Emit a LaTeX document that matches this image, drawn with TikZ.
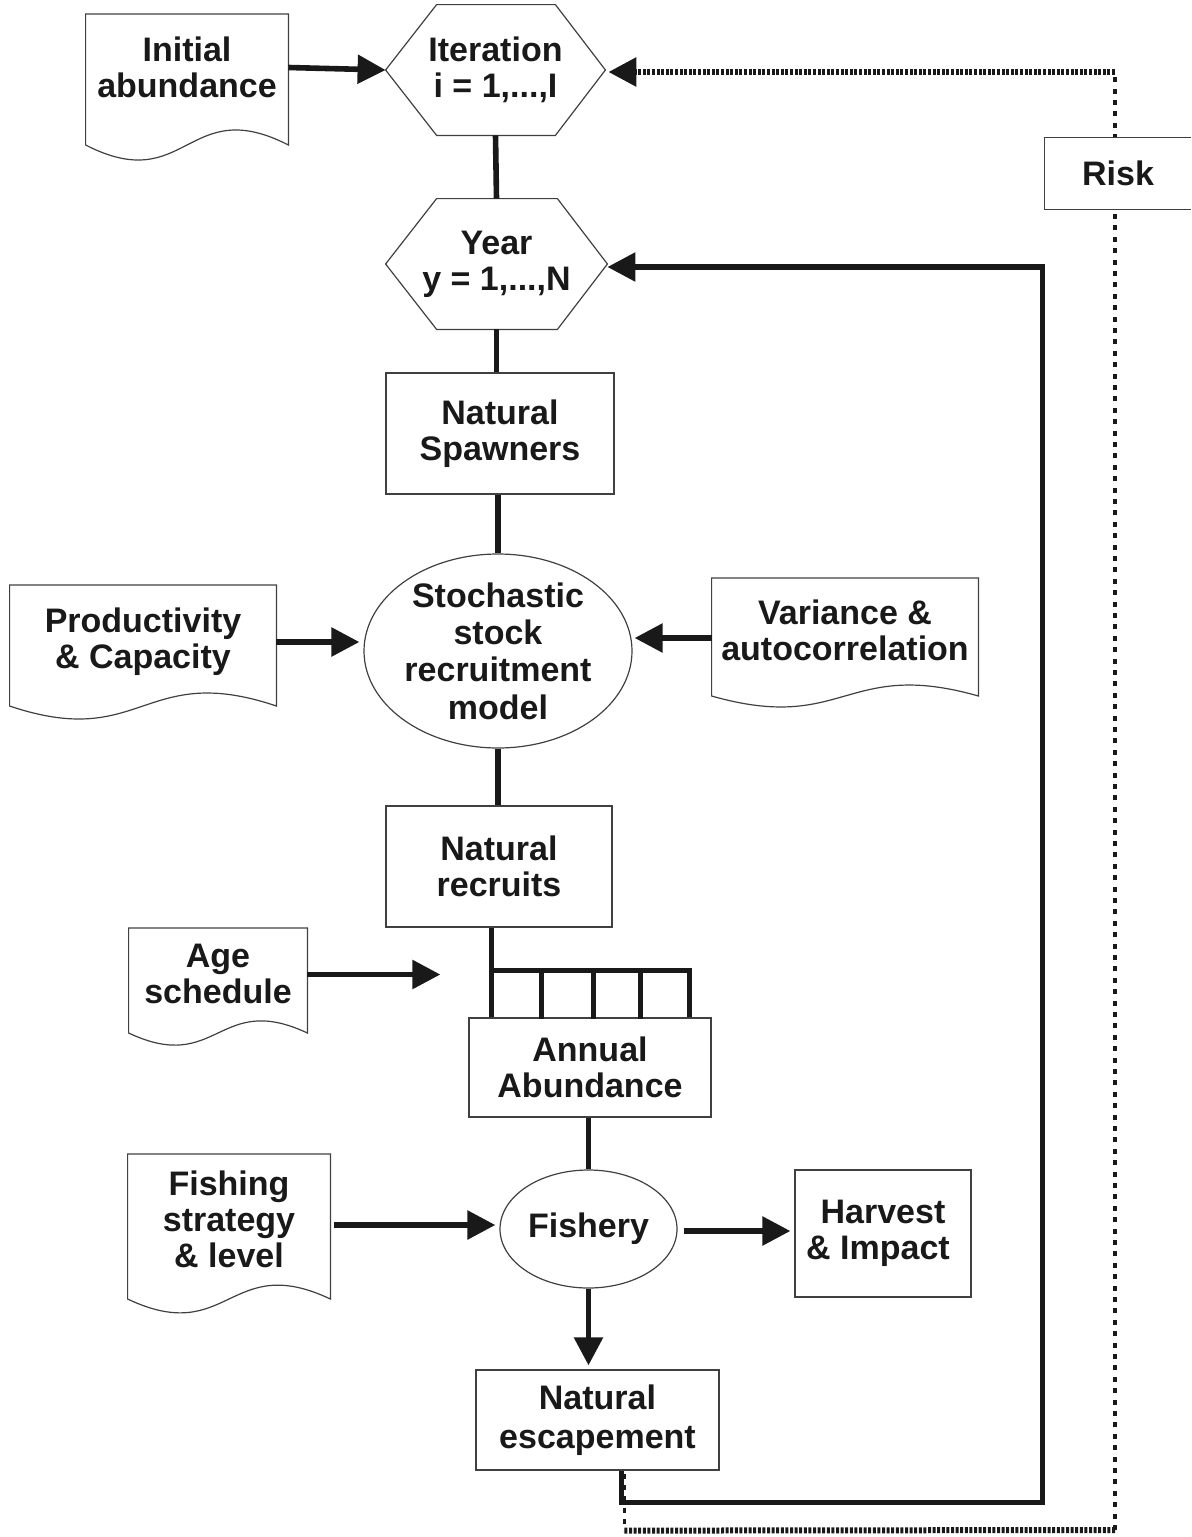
\documentclass[tikz,border=0pt]{standalone}
\usepackage{fontspec}
\setmainfont{Liberation Sans}
\usetikzlibrary{arrows.meta,shapes.geometric,calc}
% name, top offset, bottom offset (px), wave control offset
\newcommand\docoutline[4]{%
  \draw[outline] ($(#1.west)+(0,-#2)$) -- ($(#1.east)+(0,-#2)$) -- ($(#1.east)+(0,#3)$)
    .. controls ($(#1.center)+(0,#3-#4)$) and ($(#1.center)+(0,#3+#4)$) .. ($(#1.west)+(0,#3)$) -- cycle;}
\newcommand\hexoutline[1]{%
  \draw[outline] (#1.west) -- ($(#1.north west)+(51,0)$) -- ($(#1.north east)+(-50,0)$) -- (#1.east)
    -- ($(#1.south east)+(-50,0)$) -- ($(#1.south west)+(51,0)$) -- cycle;}
\begin{document}
\begin{tikzpicture}[x=0.5pt,y=-0.5pt,
  every node/.style={font=\fontsize{17}{18}\selectfont\bfseries, text=black!90, align=center, inner sep=0pt},
  box/.style={draw=black!75, line width=0.6pt, rectangle},
  doc/.style={rectangle},
  hexa/.style={rectangle},
  oval/.style={draw=black!75, line width=0.6pt, ellipse},
  outline/.style={draw=black!75, line width=0.6pt},
  conn/.style={line width=2.8pt, draw=black!90},
  arr/.style={conn, -{Triangle[length=14pt,width=14pt]}},
  hdots/.style={line width=3pt, draw=black!90, dash pattern=on 1.5pt off 0.8pt},
  vdots/.style={line width=1.7pt, draw=black!90, dash pattern=on 2.5pt off 3.2pt},
]
\useasboundingbox (0,0) rectangle (1191,1537);

% hexagons
\node[hexa, minimum width=109.5pt, minimum height=65pt] (it) at (495.5,70) {Iteration\\i = 1,...,I};
\hexoutline{it}
\node[hexa, minimum width=110.5pt, minimum height=65pt] (yr) at (496.5,264) {Year\\y = 1,...,N};
\hexoutline{yr}

% boxes and ovals
\node[box, minimum width=114pt, minimum height=60.5pt] (ns) at (500,433.5) {Natural\\Spawners};
\node[oval, minimum width=134pt, minimum height=95pt, font=\fontsize{17}{18.7}\selectfont\bfseries] (ssr) at (498,651) {Stochastic\\stock\\recruitment\\model};
\node[box, minimum width=113pt, minimum height=60.5pt] (nr) at (499,866.5) {Natural\\recruits};
\node[box, minimum width=121pt, minimum height=49.5pt] (aa) at (590,1067.5) {Annual\\Abundance};
\node[oval, minimum width=88.5pt, minimum height=59pt] (fi) at (588.5,1229) {Fishery};
\node[box, minimum width=88pt, minimum height=63.5pt] (hi) at (883,1233.5) {Harvest\\\& Impact\hspace*{5pt}};
\node[box, minimum width=121.5pt, minimum height=50pt, font=\fontsize{17}{19.5}\selectfont\bfseries] (esc) at (597.5,1420) {Natural\\escapement};

% documents
\node[doc, minimum width=101pt] (ia) at (187,67.5) {Initial\\abundance};
\docoutline{ia}{53.5}{77.5}{52}
\node[doc, minimum width=133pt] (pc) at (143,642) {Productivity\\\& Capacity};
\docoutline{pc}{57}{64}{45}
\node[doc, minimum width=133pt] (va) at (845,630) {Variance \&\\autocorrelation};
\docoutline{va}{52}{66}{38}
\node[doc, minimum width=89pt] (as) at (218,973.5) {Age\\schedule};
\docoutline{as}{45.5}{59.5}{42}
\node[doc, minimum width=101pt] (fs) at (229,1219) {Fishing\\strategy\\\& level};
\docoutline{fs}{65}{80}{48}

% connectors
\draw[arr] (ia.east) -- (it.west);
\draw[conn] (it.south) -- (yr.north);
\draw[conn] (yr.south) -- (yr.south |- ns.north);
\draw[conn] (ssr.north |- ns.south) -- (ssr.north);
\draw[arr, shorten >=2pt] (pc.east) -- (pc.east -| ssr.west);
\draw[arr, shorten >=1pt] ($(va.west)+(0,8)$) -- ($(va.west -| ssr.east)+(0,8)$);
\draw[conn] (ssr.south) -- (ssr.south |- nr.north);

% comb to annual abundance
\coordinate (cb) at ($(nr.south west)+(106,43)$);
\draw[conn] ($(nr.south west)+(106,0)$) -- ($(aa.north west)+(23,0)$);
\draw[conn] (cb) -| ($(aa.north west)+(221,0)$);
\foreach \dx in {50,102,149} \draw[conn] ($(cb)+(\dx,0)$) -- ($(cb)+(\dx,48)$);
\coordinate (asend) at ($(as.east)+(133,1)$);
\draw[arr] ($(as.east)+(0,1)$) -- (asend);

\draw[conn] (aa.south -| fi.north) -- (fi.north);
\draw[arr] ($(fs.east)+(4,6)$) -- ($(fs.east -| fi.west)+(-4,6)$);
\draw[arr] ($(fi.east)+(6,2)$) -- ($(fi.east -| hi.west)+(-4,2)$);
\draw[arr] (fi.south) -- ($(fi.south |- esc.north)+(0,-4)$);

% solid loop back to year
\coordinate (sl1) at ($(esc.south)+(445,32)$);
\draw[arr] ($(esc.south west)+(146,0)$) |- (sl1) |- ($(yr.east)+(0,3)$);

% dotted loop back to iteration
\coordinate (d0) at ($(esc.south west)+(149,3)$);
\coordinate (d1) at ($(esc.south west)+(149,60)$);
\coordinate (d2) at (1115,1530);
\coordinate (d3) at ($(d2 |- it.east)+(0,2)$);
\draw[vdots] (d0) -- (d1);
\draw[hdots] (d1) -- (d2);
\draw[vdots] (d2) -- (d3);
\draw[hdots, -{Triangle[length=14pt,width=14pt]}] (d3) -- ($(it.east)+(3,2)$);

% risk box (cut by the page edge)
\node[minimum width=73pt, minimum height=35.5pt, fill=white] (risk) at (1118,173.5) {Risk};
\draw[outline] (risk.north east) -- (risk.north west) -- (risk.south west) -- (risk.south east);
\end{tikzpicture}
\end{document}
